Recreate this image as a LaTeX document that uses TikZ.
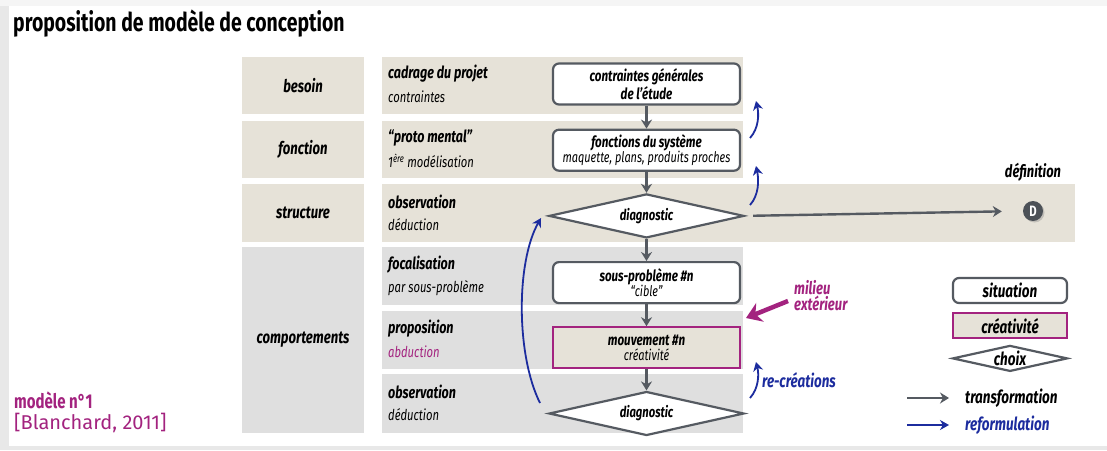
\documentclass[tikz,border=0pt]{standalone}
\usepackage{fontspec}
\setmainfont{Fira Sans}[FakeStretch=0.75]
\newfontfamily\plainfont{Fira Sans}
\usetikzlibrary{positioning,arrows.meta,shapes.geometric,calc,shadows}
\definecolor{rowbeige}{HTML}{E6E2D8}
\definecolor{rowgray}{HTML}{DFDFDF}
\definecolor{modmagenta}{HTML}{A3237F}
\definecolor{modblue}{HTML}{1C2C9E}
\definecolor{flowgray}{HTML}{555A61}
\newcommand{\boxtitle}{\fontsize{15.5}{16}\selectfont\bfseries}

\begin{document}
\begin{tikzpicture}[x=1pt,y=-1pt,
rowbox/.style={inner sep=0, minimum height=57pt},
sidelabel/.style={font=\fontsize{17.5}{19}\selectfont\bfseries\itshape},
rowtitle/.style={anchor=west, inner sep=0, font=\fontsize{16.7}{18}\selectfont\bfseries\itshape},
rowsub/.style={anchor=west, inner sep=0, font=\fontsize{15}{17}\selectfont\itshape},
situation/.style={draw=flowgray, line width=2.2pt, rounded corners=6pt, fill=white, align=center, inner sep=1pt, minimum width=187pt, minimum height=41pt, font=\fontsize{14.6}{15}\selectfont\itshape},
creabox/.style={draw=modmagenta, line width=2.2pt, fill=rowbeige, align=center, inner sep=1pt, minimum width=187pt, minimum height=41pt, font=\fontsize{14.6}{15}\selectfont\itshape},
choice/.style={diamond, draw=flowgray, line width=2.2pt, fill=white, aspect=4.4, inner sep=0, minimum width=195pt, minimum height=44pt, font=\fontsize{15}{16}\selectfont\bfseries\itshape},
legendtext/.style={font=\fontsize{18}{19}\selectfont\bfseries\itshape},
transarrow/.style={draw=flowgray, line width=2.4pt, -{Stealth[length=9pt,width=11pt]}},
reformarrow/.style={draw=modblue, line width=1.8pt, -{Stealth[length=9pt,width=10pt]}},
node distance=22pt
]
\useasboundingbox (0,0) rectangle (1107,450);
% page frame
\fill[black!9] (0,0) rectangle (1107,450);
\fill[black!4] (0,0) rectangle (1107,6);
\fill[white] (9,6) rectangle (1107,446);

\node[anchor=base west, inner sep=0, font=\fontsize{25.9}{28}\selectfont\bfseries] (title) at (13,31) {proposition de modèle de conception};

% left column
\node[rowbox, fill=rowbeige, minimum width=122pt] (besoin) at (303,85.5) {};
\node[rowbox, fill=rowbeige, minimum width=122pt] (fonction) at (303,149.5) {};
\node[rowbox, fill=rowbeige, minimum width=122pt, minimum height=58pt] (structure) at (303,213) {};
\node[rowbox, fill=rowgray, minimum width=122pt, minimum height=186pt] (comport) at (303,340) {};
\node[sidelabel] at (besoin) {besoin};
\node[sidelabel] at (fonction) {fonction};
\node[sidelabel] at (structure) {structure};
\node[sidelabel] at (comport) {comportements};

% right rows
\node[rowbox, fill=rowbeige, minimum width=361pt] (r1) at (562.5,85.5) {};
\node[rowbox, fill=rowbeige, minimum width=361pt] (r2) at (562.5,149.5) {};
\node[rowbox, fill=rowbeige, minimum width=693pt, minimum height=58pt] (r3) at (728.5,213) {};
\node[rowbox, fill=rowgray, minimum width=361pt, minimum height=58pt] (r4) at (562.5,276) {};
\node[rowbox, fill=rowgray, minimum width=361pt, minimum height=58pt] (r5) at (562.5,340) {};
\node[rowbox, fill=rowgray, minimum width=361pt, minimum height=59pt] (r6) at (562.5,403.5) {};

\node[rowtitle] (t1) at (388,74) {cadrage du projet};
\node[rowsub] (s1) at (388,97) {contraintes};
\node[rowtitle] (t2) at (388,138) {“proto mental”};
\node[rowsub] (s2) at (388,161) {1\textsuperscript{ère} modélisation};
\node[rowtitle] (t3) at (388,202) {observation};
\node[rowsub] (s3) at (388,225) {déduction};
\node[rowtitle] (t4) at (388,265) {focalisation};
\node[rowsub] (s4) at (388,288) {par sous-problème};
\node[rowtitle] (t5) at (388,329) {proposition};
\node[rowsub, text=modmagenta] (s5) at (388,352) {abduction};
\node[rowtitle] (t6) at (388,392) {observation};
\node[rowsub] (s6) at (388,415) {déduction};

% flow
\node[situation] (contr) at (646.5,84) {{\boxtitle contraintes générales}\\{\boxtitle de l’étude}};
\node[situation, below=23pt of contr] (fonct) {{\boxtitle fonctions du système}\\maquette, plans, produits proches};
\node[choice, below=21pt of fonct] (diag1) {diagnostic};
\node[situation, below=22pt of diag1] (sousp) {{\boxtitle sous-problème \#n}\\“cible”};
\node[creabox, below=22pt of sousp] (mouv) {{\boxtitle mouvement \#n}\\créativité};
\node[choice, below=21pt of mouv] (diag2) {diagnostic};

\draw[transarrow] (contr) -- (fonct);
\draw[transarrow] (fonct) -- (diag1);
\draw[transarrow] (diag1) -- (sousp);
\draw[transarrow] (sousp) -- (mouv);
\draw[transarrow] (mouv) -- (diag2);

% definition
\node[circle, fill=flowgray!90!black, text=white, inner sep=0, minimum size=20pt, drop shadow={opacity=0.35, shadow xshift=1.5pt, shadow yshift=-1.5pt}, font=\fontsize{15}{16}\selectfont\bfseries] (dnode) at (1033,211) {D};
\node[font=\fontsize{17.2}{18}\selectfont\bfseries\itshape] (defn) at (1033,172) {définition};
\draw[transarrow, shorten <=8pt, shorten >=21pt] (diag1.east) -- (dnode.west);

% reformulations
\coordinate (b1) at (540,403);
\coordinate (b2) at (541,218);
\draw[reformarrow] (b1) .. controls (516,355) and (516,262) .. (b2);
\coordinate (c1) at (750,138);
\coordinate (c2) at (756,101);
\draw[reformarrow] (c1) .. controls (759,128) and (759,114) .. (c2);
\coordinate (c3) at (750,205);
\coordinate (c4) at (756,166);
\draw[reformarrow] (c3) .. controls (759,195) and (759,180) .. (c4);
\coordinate (c5) at (750,398);
\coordinate (c6) at (756,362);
\draw[reformarrow] (c5) .. controls (759,388) and (759,374) .. (c6);
\node[anchor=west, inner sep=0, text=modblue, font=\fontsize{17.9}{19}\selectfont\bfseries\itshape] (recr) at (762,380) {re-créations};

% outside world
\coordinate (m1) at (788,301);
\coordinate (m2) at (746,318);
\draw[draw=modmagenta, line width=4.5pt, -{Stealth[length=15pt,width=20pt]}] (m1) -- (m2);
\node[anchor=west, align=left, inner sep=0, text=modmagenta, font=\fontsize{17.4}{16}\selectfont\bfseries\itshape] (milieu) at (794,296) {milieu\\extérieur};

% legend
\node[situation, minimum width=114pt, minimum height=25pt, legendtext] (lsit) at (1010,290.5) {situation};
\node[creabox, minimum width=114pt, minimum height=25pt, legendtext, below=8pt of lsit] (lcrea) {créativité};
\node[choice, minimum width=115pt, minimum height=26pt, legendtext, below=5pt of lcrea] (lchoix) {choix};

\coordinate (tr1) at (907,398);
\coordinate (tr2) at (949,398);
\draw[transarrow] (tr1) -- (tr2);
\node[anchor=west, inner sep=0, legendtext] (ltrans) at (965,398) {transformation};
\coordinate (rf1) at (907,425);
\coordinate (rf2) at (949,425);
\draw[reformarrow] (rf1) -- (rf2);
\node[anchor=west, inner sep=0, text=modblue, legendtext] (lreform) at (965,425) {reformulation};

% reference
\node[anchor=base west, inner sep=0, text=modmagenta, font=\fontsize{20}{22}\selectfont\bfseries] (model) at (14,408) {modèle n°1};
\node[anchor=base west, inner sep=0, text=modmagenta, font=\fontsize{20}{22}\selectfont\plainfont] (blanch) at (14,429) {[Blanchard, 2011]};
\end{tikzpicture}
\end{document}
